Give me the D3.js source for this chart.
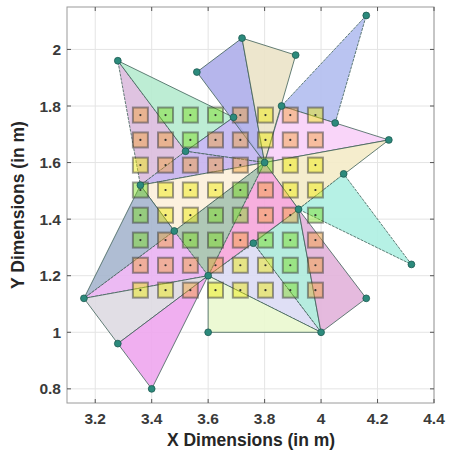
<!DOCTYPE html>
<html>
<head>
<meta charset="utf-8">
<script src="https://d3js.org/d3.v7.min.js"></script>
<style>
  body { margin: 0; background: #fff; }
  text { font-family: "Liberation Sans", Arial, sans-serif; }
</style>
</head>
<body>
<script>
// vertex coordinates (m)
var vName = ["A","B","C","D","E","F","G","H","I","J","K","L","M","N","O","P","Q","R","S","T","U","V","W","X"];
var vX = [3.28,3.72,3.91,3.56,4.16,3.86,4.05,4.24,3.69,3.52,3.80,3.36,4.08,3.92,3.48,3.76,3.60,3.16,4.16,4.32,3.60,4.00,3.28,3.40];
var vY = [1.96,2.04,1.98,1.92,2.12,1.80,1.74,1.68,1.76,1.64,1.60,1.52,1.56,1.435,1.358,1.315,1.20,1.12,1.12,1.24,1.00,1.00,0.96,0.80];

// polygons (vertex names) and their colours
var polys = [
  ["A","J","L"], ["A","I","J"], ["J","I","K"], ["J","K","L"], ["D","B","K"], ["B","C","K"],
  ["E","F","G"], ["K","F","H"], ["K","H","N"], ["N","M","T"], ["P","N","V"], ["N","S","V"],
  ["Q","P","V"], ["Q","U","V"], ["K","Q","N"], ["O","K","Q"], ["L","K","O"], ["L","O","R"],
  ["O","Q","R"], ["R","Q","W"], ["W","Q","X"]
];
var polyColors = [
  "#dcbcde", "#b6ebcf", "#c2b6f2", "#c6b2ee", "#aeaeea", "#ebe3c8",
  "#b2bef0", "#f8d0f8", "#f4ebc8", "#aef0e2", "#aeeadb", "#e2b2da",
  "#dcdcf4", "#eaf8cf", "#f6a6da", "#a6c2ae", "#fcf0da", "#a6b6ce",
  "#eab2f2", "#dedae2", "#eea6ee"
];

// grid of sample squares
var gridX = [3.36,3.449,3.537,3.626,3.714,3.803,3.891,3.98];
var gridY = [1.768,1.68,1.591,1.503,1.414,1.326,1.237,1.149];
var cellClass = [
  "OGGGOYOY",
  "OOGOOYOO",
  "YOOOOGYY",
  "GYYYGOYY",
  "GYYGGOOG",
  "GOGGOGGO",
  "OOOOYYGO",
  "YYOYYYGO"
];
var cellFill = { Y: "#f0ea00", O: "#f5a030", G: "#78dc18" };

var xTicks = [3.2,3.4,3.6,3.8,4.0,4.2,4.4];
var yTicks = [0.8,1.0,1.2,1.4,1.6,1.8,2.0];

var W = 450, H = 459;
var svg = d3.select("body").append("svg").attr("width", W).attr("height", H);

var x = d3.scaleLinear().domain([3.1, 4.4]).range([67, 434]);
var y = d3.scaleLinear().domain([0.75, 2.15]).range([403, 7]);

var fmt = function(d) { return d3.format("~g")(d); };

// grid lines
svg.append("g").selectAll("line.gx").data(xTicks).enter().append("line")
  .attr("x1", d => x(d)).attr("x2", d => x(d)).attr("y1", y(0.75)).attr("y2", y(2.15))
  .attr("stroke", "#e4e4e4").attr("stroke-width", 1);
svg.append("g").selectAll("line.gy").data(yTicks).enter().append("line")
  .attr("x1", x(3.1)).attr("x2", x(4.4)).attr("y1", d => y(d)).attr("y2", d => y(d))
  .attr("stroke", "#e4e4e4").attr("stroke-width", 1);

var pt = function(n) { var i = vName.indexOf(n); return [x(vX[i]), y(vY[i])]; };

// polygons
svg.append("g").selectAll("path").data(polys).enter().append("path")
  .attr("d", p => "M" + p.map(pt).join("L") + "Z")
  .attr("fill", (p, i) => polyColors[i])
  .attr("fill-opacity", 0.9)
  .attr("stroke", "#3f6058")
  .attr("stroke-opacity", 0.8)
  .attr("stroke-width", 1)
  .attr("stroke-dasharray", (p, i) => i % 3 === 0 ? "3,1" : null);

// squares
var cells = [];
gridY.forEach(function(gy, r) {
  gridX.forEach(function(gx, c) {
    cells.push({ x: gx, y: gy, k: cellClass[r][c] });
  });
});
var s = 15;
var cg = svg.append("g");
cg.selectAll("rect").data(cells).enter().append("rect")
  .attr("x", d => x(d.x) - s / 2).attr("y", d => y(d.y) - s / 2)
  .attr("width", s).attr("height", s)
  .attr("fill", d => cellFill[d.k]).attr("fill-opacity", 0.45)
  .attr("stroke", "#3a3a3a").attr("stroke-opacity", 0.5).attr("stroke-width", 2);
cg.selectAll("circle").data(cells).enter().append("circle")
  .attr("cx", d => x(d.x)).attr("cy", d => y(d.y)).attr("r", 1.1)
  .attr("fill", "#333");

// vertices
svg.append("g").selectAll("circle").data(vName).enter().append("circle")
  .attr("cx", n => pt(n)[0]).attr("cy", n => pt(n)[1]).attr("r", 3.4)
  .attr("fill", "#2c8a7c").attr("stroke", "#1d5a52").attr("stroke-width", 0.8);

// box
svg.append("rect").attr("x", x(3.1)).attr("y", y(2.15))
  .attr("width", x(4.4) - x(3.1)).attr("height", y(0.75) - y(2.15))
  .attr("fill", "none").attr("stroke", "#9a9a9a").attr("stroke-width", 1);

// ticks
var tl = 4;
svg.append("g").selectAll("line").data(xTicks).enter().append("line")
  .attr("x1", d => x(d)).attr("x2", d => x(d)).attr("y1", y(0.75)).attr("y2", y(0.75) - tl)
  .attr("stroke", "#555");
svg.append("g").selectAll("line").data(xTicks).enter().append("line")
  .attr("x1", d => x(d)).attr("x2", d => x(d)).attr("y1", y(2.15)).attr("y2", y(2.15) + tl)
  .attr("stroke", "#555");
svg.append("g").selectAll("line").data(yTicks).enter().append("line")
  .attr("x1", x(3.1)).attr("x2", x(3.1) + tl).attr("y1", d => y(d)).attr("y2", d => y(d))
  .attr("stroke", "#555");
svg.append("g").selectAll("line").data(yTicks).enter().append("line")
  .attr("x1", x(4.4)).attr("x2", x(4.4) - tl).attr("y1", d => y(d)).attr("y2", d => y(d))
  .attr("stroke", "#555");

// tick labels
svg.append("g").selectAll("text").data(xTicks).enter().append("text")
  .attr("x", d => x(d)).attr("y", 424)
  .attr("text-anchor", "middle").attr("font-size", 15.5).attr("font-weight", "bold")
  .attr("fill", "#3a3a3a").text(fmt);
svg.append("g").selectAll("text").data(yTicks).enter().append("text")
  .attr("x", 61).attr("y", d => y(d) + 5.5)
  .attr("text-anchor", "end").attr("font-size", 15.5).attr("font-weight", "bold")
  .attr("fill", "#3a3a3a").text(fmt);

// axis titles
svg.append("text").attr("x", 251).attr("y", 446)
  .attr("text-anchor", "middle").attr("font-size", 17.5).attr("font-weight", "bold")
  .attr("fill", "#262626").text("X Dimensions (in m)");
svg.append("text").attr("transform", "translate(24," + y(1.45) + ") rotate(-90)")
  .attr("text-anchor", "middle").attr("font-size", 17.5).attr("font-weight", "bold")
  .attr("fill", "#262626").text("Y Dimensions (in m)");
</script>
</body>
</html>
